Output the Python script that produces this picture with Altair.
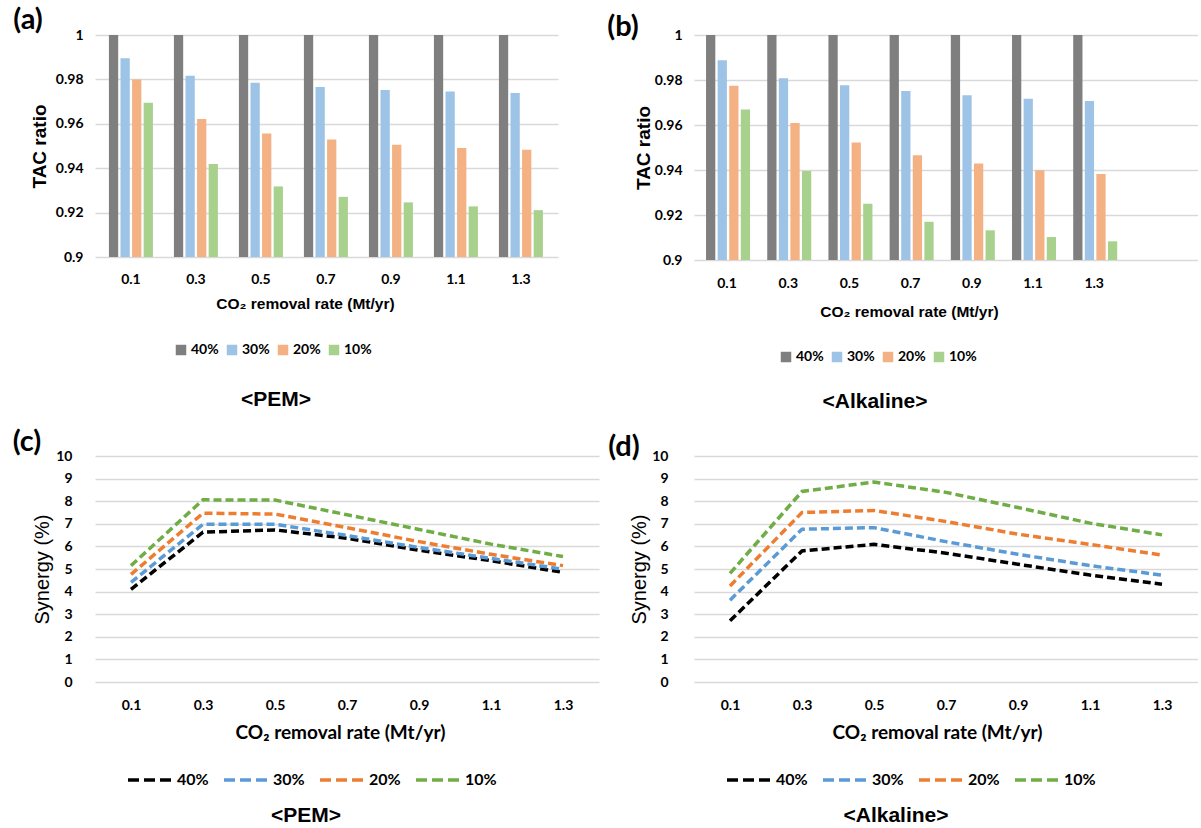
import altair as alt
import pandas as pd

rates = ["0.1", "0.3", "0.5", "0.7", "0.9", "1.1", "1.3"]
shares = ["40%", "30%", "20%", "10%"]

# (a) PEM - TAC ratio
pem_tac_40 = [1.0, 1.0, 1.0, 1.0, 1.0, 1.0, 1.0]
pem_tac_30 = [0.9895, 0.9817, 0.9785, 0.9766, 0.9752, 0.9745, 0.9739]
pem_tac_20 = [0.9799, 0.9622, 0.9556, 0.9529, 0.9506, 0.9491, 0.9483]
pem_tac_10 = [0.9695, 0.9419, 0.9318, 0.9271, 0.9246, 0.9228, 0.9211]

# (b) Alkaline - TAC ratio
alk_tac_40 = [1.0, 1.0, 1.0, 1.0, 1.0, 1.0, 1.0]
alk_tac_30 = [0.9888, 0.9808, 0.9777, 0.9751, 0.9732, 0.9717, 0.9707]
alk_tac_20 = [0.9775, 0.9609, 0.9522, 0.9466, 0.9429, 0.9399, 0.9382]
alk_tac_10 = [0.9669, 0.9396, 0.9250, 0.9170, 0.9132, 0.9102, 0.9083]

# (c) PEM - Synergy (%)
pem_syn_40 = [4.10, 6.63, 6.73, 6.36, 5.83, 5.37, 4.85]
pem_syn_30 = [4.41, 6.98, 6.98, 6.48, 5.95, 5.47, 4.99]
pem_syn_20 = [4.76, 7.47, 7.43, 6.83, 6.21, 5.65, 5.15]
pem_syn_10 = [5.15, 8.06, 8.05, 7.40, 6.75, 6.10, 5.55]

# (d) Alkaline - Synergy (%)
alk_syn_40 = [2.71, 5.80, 6.09, 5.70, 5.21, 4.73, 4.33]
alk_syn_30 = [3.62, 6.76, 6.83, 6.21, 5.65, 5.15, 4.73]
alk_syn_20 = [4.25, 7.50, 7.59, 7.10, 6.54, 6.09, 5.62]
alk_syn_10 = [4.81, 8.43, 8.85, 8.39, 7.72, 7.03, 6.51]

bar_colors = ["#7f7f7f", "#9dc3e6", "#f4b183", "#a9d18e"]
line_colors = ["#000000", "#5b9bd5", "#ed7d31", "#70ad47"]

GRID = "#d9d9d9"
TICKFONT = "Lato"
ARIAL = "Liberation Sans"


def long_df(series_list):
    rows = []
    for share, vals in zip(shares, series_list):
        for r, v in zip(rates, vals):
            rows.append({"rate": r, "share": share, "value": v})
    return pd.DataFrame(rows)


def text_layer(txt, x, y, size, font, weight="bold"):
    return alt.Chart(pd.DataFrame({"t": [txt]})).mark_text(
        text=txt, font=font, fontSize=size, fontWeight=weight, color="black",
        align="center", baseline="middle"
    ).encode(x=alt.value(x), y=alt.value(y))


def bar_panel(df, width, height, xscale, tag, tag_xy, ytitle_x, xtitle_x, xtitle_y,
              xlabel_pad, legend_xy, name, name_xy):
    main = alt.Chart(df).mark_bar().encode(
        x=alt.X("rate:N", sort=rates, scale=alt.Scale(**xscale), axis=alt.Axis(
            title="CO₂ removal rate (Mt/yr)", titleFont=ARIAL, titleFontSize=15.5,
            titleFontWeight="bold", titleX=xtitle_x, titleY=xtitle_y,
            titleBaseline="middle", titleAlign="center",
            labelFont=TICKFONT, labelFontSize=14, labelFontWeight="bold",
            labelPadding=xlabel_pad, labelAngle=0, ticks=False, tickSize=0,
            domain=False, grid=False)),
        xOffset=alt.XOffset("share:N", sort=shares,
                            scale=alt.Scale(paddingInner=0.2, paddingOuter=0)),
        y=alt.Y("value:Q", scale=alt.Scale(domain=[0.9, 1.0], zero=False, nice=False),
                axis=alt.Axis(values=[0.9, 0.92, 0.94, 0.96, 0.98, 1.0], format=".2~f",
                              title="TAC ratio", titleFont=ARIAL, titleFontSize=19,
                              titleFontWeight="bold", titleX=ytitle_x, titleY=height / 2,
                              titleAlign="center", titleBaseline="middle",
                              labelFont=TICKFONT, labelFontSize=14, labelFontWeight="bold",
                              labelPadding=12, ticks=False, tickSize=0, domain=False,
                              grid=True, gridColor=GRID, gridWidth=1.5)),
        y2=alt.datum(0.9),
        color=alt.Color("share:N", sort=shares,
                        scale=alt.Scale(domain=shares, range=bar_colors),
                        legend=alt.Legend(orient="none", legendX=legend_xy[0],
                                          legendY=legend_xy[1], direction="horizontal",
                                          title=None, symbolType="square", symbolSize=110,
                                          symbolStrokeWidth=0, labelFont=TICKFONT,
                                          labelFontSize=14, labelFontWeight="bold",
                                          labelOffset=3, columnPadding=6)),
    )
    return alt.layer(
        main,
        text_layer(tag, tag_xy[0], tag_xy[1], 29, TICKFONT),
        text_layer(name, name_xy[0], name_xy[1], 21, ARIAL),
    ).properties(width=width, height=height)


def line_panel(df, width, height, tag, tag_xy, ytitle_x, ylabel_pad, xtitle_x, xtitle_y,
               xlabel_pad, legend_xy, name, name_xy):
    main = alt.Chart(df).mark_line(strokeDash=[8, 4], strokeWidth=3.5).encode(
        x=alt.X("rate:N", sort=rates, scale=alt.Scale(type="point", padding=0.5),
                axis=alt.Axis(title="CO₂ removal rate (Mt/yr)", titleFont=TICKFONT,
                              titleFontSize=19, titleFontWeight="bold", titleX=xtitle_x,
                              titleY=xtitle_y, titleBaseline="middle", titleAlign="center",
                              labelFont=TICKFONT, labelFontSize=14, labelFontWeight="bold",
                              labelPadding=xlabel_pad, labelAngle=0, ticks=False,
                              tickSize=0, domain=False, grid=False)),
        y=alt.Y("value:Q", scale=alt.Scale(domain=[0, 10], nice=False),
                axis=alt.Axis(values=list(range(11)), title="Synergy (%)",
                              titleFont=ARIAL, titleFontSize=20, titleFontWeight="normal",
                              titleX=ytitle_x, titleY=height / 2, titleAlign="center",
                              titleBaseline="middle", labelFont=TICKFONT, labelFontSize=14,
                              labelFontWeight="bold", labelPadding=ylabel_pad, ticks=False,
                              tickSize=0, domain=False, grid=True, gridColor=GRID,
                              gridWidth=1.5)),
        color=alt.Color("share:N", sort=shares,
                        scale=alt.Scale(domain=shares, range=line_colors),
                        legend=alt.Legend(orient="none", legendX=legend_xy[0],
                                          legendY=legend_xy[1], direction="horizontal",
                                          title=None, symbolType="stroke",
                                          symbolDash=[11, 5], symbolStrokeWidth=3.5,
                                          symbolSize=1936, labelFont=TICKFONT,
                                          labelFontSize=16, labelFontWeight="bold",
                                          labelOffset=3, columnPadding=8)),
    )
    return alt.layer(
        main,
        text_layer(tag, tag_xy[0], tag_xy[1], 29, TICKFONT),
        text_layer(name, name_xy[0], name_xy[1], 21, ARIAL),
    ).properties(width=width, height=height)


pa = bar_panel(long_df([pem_tac_40, pem_tac_30, pem_tac_20, pem_tac_10]), 463, 222,
               dict(paddingInner=0.323, paddingOuter=0.223, align=0.48),
               "(a)", (-67, -15), -56, 210, 46, 15, (79, 308), "<PEM>", (181, 365))
pb = bar_panel(long_df([alk_tac_40, alk_tac_30, alk_tac_20, alk_tac_10]), 504, 225,
               dict(paddingInner=0.314, paddingOuter=0.775, align=0.127),
               "(b)", (-71, -8), -51, 215, 51, 16, (85, 315), "<Alkaline>", (181, 367))
pc = line_panel(long_df([pem_syn_40, pem_syn_30, pem_syn_20, pem_syn_10]), 504, 226,
                "(c)", (-68, -14), -53, 23, 245, 50, 16, (31, 300), "<PEM>", (211, 360))
pd_ = line_panel(long_df([alk_syn_40, alk_syn_30, alk_syn_20, alk_syn_10]), 504, 226,
                 "(d)", (-70, -9), -55, 26, 243, 50, 16, (31, 300), "<Alkaline>", (202, 360))

chart = alt.concat(
    pa, pb, pc, pd_, columns=2, bounds="flush", spacing={"row": 196, "column": 95}
).resolve_scale(color="independent").properties(
    padding={"left": 12, "top": 6, "right": 0, "bottom": 0},
    background="white",
).configure_view(stroke=None)

chart.save("out.html", embed_options={"renderer": "svg", "actions": False})
